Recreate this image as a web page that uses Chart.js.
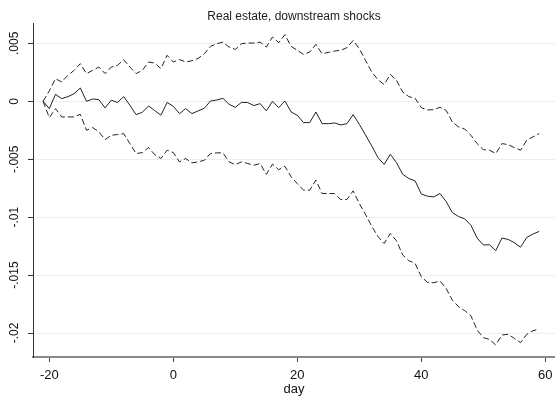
<!DOCTYPE html>
<html><head><meta charset="utf-8">
<script src="https://cdn.jsdelivr.net/npm/chart.js@4.4.1/dist/chart.umd.min.js"></script>
<style>html,body{margin:0;padding:0;background:#fff}#wrap{width:555px;height:402px}</style>
</head><body><div id="wrap"><canvas id="c" width="555" height="402"></canvas></div>
<script>
const titleText = 'Real estate, downstream shocks';
const xTitle = 'day';
const days = [-21,-20,-19,-18,-17,-16,-15,-14,-13,-12,-11,-10,-9,-8,-7,-6,-5,-4,-3,-2,-1,
  0,1,2,3,4,5,6,7,8,9,10,11,12,13,14,15,16,17,18,19,20,21,22,23,24,25,26,27,28,29,
  30,31,32,33,34,35,36,37,38,39,40,41,42,43,44,45,46,47,48,49,50,51,52,53,54,55,56,57,58,59];
const estimate = [0,-0.00063,0.0006,0.00023,0.0004,0.00066,0.00115,0,0.0002,0.00014,-0.00057,
  0.0001,-0.0001,0.0004,-0.00034,-0.00115,-0.00095,-0.0004,-0.0008,-0.0012,-0.0001,
  -0.00043,-0.00106,-0.00063,-0.00106,-0.00083,-0.0006,0.00003,0.00011,0.00026,-0.00026,
  -0.00052,-0.00009,-0.00011,-0.00037,-0.0002,-0.00083,0,-0.00055,0.00003,-0.00092,
  -0.00121,-0.00184,-0.00184,-0.00092,-0.00193,-0.00193,-0.00187,-0.00204,-0.00193,-0.00115,
  -0.00198,-0.00291,-0.00385,-0.00485,-0.00545,-0.00457,-0.0053,-0.0063,-0.00667,-0.00687,
  -0.008,-0.00819,-0.00825,-0.00796,-0.00865,-0.0096,-0.00994,-0.01015,-0.0107,-0.0118,
  -0.0124,-0.01238,-0.0129,-0.0118,-0.01192,-0.0122,-0.0126,-0.01175,-0.01146,-0.01123];
const upperCI = [0,0.0009,0.00195,0.00167,0.00224,0.00267,0.00325,0.00239,0.00267,0.00296,0.00239,
  0.00296,0.0031,0.00359,0.00296,0.00239,0.00267,0.00339,0.0033,0.00282,0.00397,
  0.00339,0.0036,0.0034,0.0035,0.0037,0.0041,0.00474,0.00497,0.00511,0.00468,
  0.00448,0.00497,0.00503,0.00503,0.00511,0.00468,0.00555,0.00506,0.00575,0.00474,
  0.0044,0.00405,0.00425,0.00491,0.0041,0.00422,0.00434,0.0044,0.00463,0.00525,
  0.00454,0.00353,0.00253,0.00187,0.00144,0.00233,0.00181,0.0008,0.0004,0.00026,
  -0.00055,-0.00075,-0.00072,-0.00052,-0.00078,-0.00178,-0.00221,-0.00239,-0.00293,-0.00365,
  -0.00417,-0.00422,-0.00451,-0.00365,-0.00374,-0.004,-0.00422,-0.00336,-0.00307,-0.00279];
const lowerCI = [0,-0.00141,-0.00063,-0.00135,-0.00135,-0.00135,-0.00112,-0.0025,-0.00227,-0.00264,-0.0033,
  -0.00293,-0.00287,-0.00279,-0.00365,-0.00451,-0.00443,-0.00399,-0.0046,-0.00494,-0.00422,
  -0.00443,-0.00523,-0.00494,-0.00532,-0.00523,-0.00509,-0.00451,-0.00445,-0.00445,-0.00523,
  -0.00546,-0.00523,-0.00537,-0.00552,-0.00537,-0.0063,-0.00543,-0.0059,-0.00561,-0.00652,
  -0.0071,-0.00767,-0.00767,-0.0068,-0.00796,-0.00796,-0.00796,-0.00848,-0.00848,-0.00773,
  -0.00882,-0.00977,-0.01078,-0.01167,-0.01227,-0.01141,-0.01204,-0.01327,-0.01376,-0.01399,
  -0.01514,-0.01563,-0.01566,-0.01551,-0.01615,-0.01716,-0.01773,-0.01807,-0.01851,-0.01974,
  -0.0204,-0.02055,-0.02103,-0.02017,-0.02011,-0.02046,-0.02083,-0.02011,-0.0198,-0.01965];
const xTickValues = [-20,0,20,40,60];
const yTickValues = [0.005,0,-0.005,-0.01,-0.015,-0.02];
const yTickLabels = ['.005','0','-.005','-.01','-.015','-.02'];

const FONT = "'Liberation Sans', Arial, Helvetica, sans-serif";
const toPts = arr => days.map((d,i)=>({x:d,y:arr[i]}));

const yLabelPlugin = {
  id:'yLabels',
  afterDraw(chart){
    const s = chart.scales.y, c = chart.ctx;
    c.save();
    c.fillStyle = '#111';
    c.font = '12px ' + FONT;
    c.textAlign = 'center';
    c.textBaseline = 'middle';
    yTickValues.forEach((v,i)=>{
      const y = s.getPixelForValue(v);
      c.save();
      c.translate(15, y);
      c.rotate(-Math.PI/2);
      c.fillText(yTickLabels[i], 0, 0);
      c.restore();
    });
    c.restore();
  }
};

const lineStyle = {borderColor:'#222', borderWidth:1, pointRadius:0, fill:false, tension:0};

new Chart(document.getElementById('c').getContext('2d'), {
  type:'line',
  data:{datasets:[
    Object.assign({label:'upper', data:toPts(upperCI), borderDash:[6,3]}, lineStyle),
    Object.assign({label:'estimate', data:toPts(estimate)}, lineStyle),
    Object.assign({label:'lower', data:toPts(lowerCI), borderDash:[6,3]}, lineStyle)
  ]},
  options:{
    responsive:false, animation:false, devicePixelRatio:1,
    layout:{padding:0},
    plugins:{
      legend:{display:false}, tooltip:{enabled:false},
      title:{display:true, text:titleText, fullSize:false, color:'#222',
        font:{family:FONT, size:12, weight:'normal'}, padding:{top:9, bottom:0}}
    },
    scales:{
      x:{type:'linear', min:-22.63, max:61.56,
        afterBuildTicks:s=>{s.ticks = xTickValues.map(v=>({value:v}));},
        afterFit:s=>{s.height = 45; s.paddingLeft = 0; s.paddingRight = 0;},
        grid:{drawOnChartArea:false, drawTicks:true, tickLength:5, tickColor:'#444', tickWidth:1},
        border:{display:true, color:'#8a8a8a', width:2},
        ticks:{color:'#111', font:{family:FONT, size:13}, padding:6, maxRotation:0, autoSkip:false},
        title:{display:true, text:xTitle, color:'#111', font:{family:FONT, size:13}, padding:{top:0, bottom:5}}
      },
      y:{type:'linear', min:-0.022069, max:0.006724,
        afterBuildTicks:s=>{s.ticks = yTickValues.map(v=>({value:v}));},
        afterFit:s=>{s.width = 33; s.paddingTop = 0; s.paddingBottom = 0;},
        grid:{color:'#e9f0f1', lineWidth:1, drawTicks:true, tickLength:5, tickColor:'#333'},
        border:{display:true, color:'#333', width:1},
        ticks:{callback:()=>'', padding:0}
      }
    }
  },
  plugins:[yLabelPlugin]
});
</script></body></html>
